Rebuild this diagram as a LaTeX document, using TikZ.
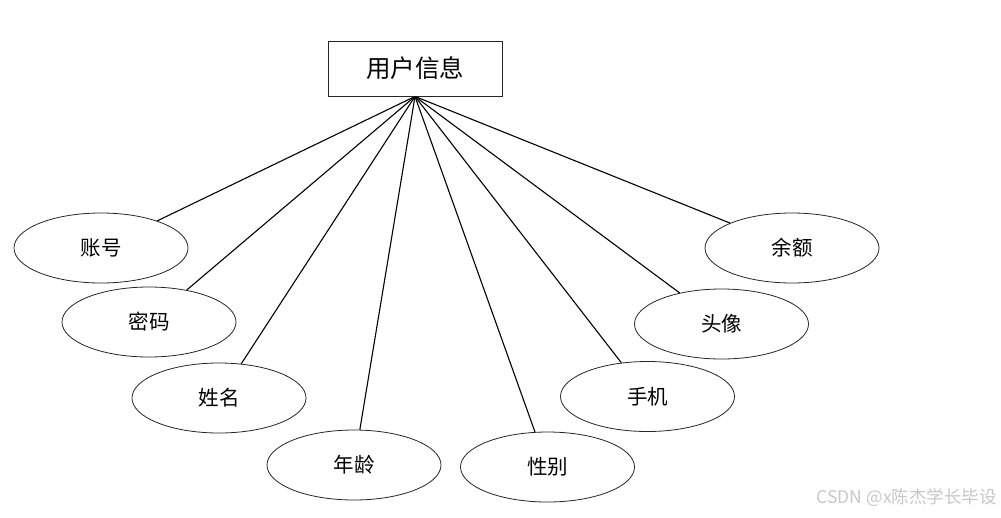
\documentclass[tikz,border=0pt]{standalone}
\usepackage{fontspec}
\setmainfont{Noto Sans CJK SC}
\newfontfamily\cjk{Noto Sans CJK SC}
\usetikzlibrary{shapes.geometric}
\begin{document}
\begin{tikzpicture}[x=1pt,y=-1pt,
  entbox/.style={draw=black!85,line width=0.9pt,minimum width=174pt,minimum height=55pt,inner sep=0pt,font=\cjk\fontsize{24.5}{28}\selectfont},
  attr/.style={draw=black!85,ellipse,line width=0.8pt,minimum width=174pt,minimum height=70pt,inner sep=0pt,font=\cjk\fontsize{20.5}{24}\selectfont},
  link/.style={line width=1.1pt,black}]
\useasboundingbox (0,0) rectangle (1001,517);
\node[entbox] (user) at (415,68.5) {用户信息};
\node[attr] (acc) at (101,248) {账号};
\node[attr] (pwd) at (149,322) {密码};
\node[attr] (name) at (219,398) {姓名};
\node[attr] (age) at (354,465) {年龄};
\node[attr] (sex) at (547.5,467) {性别};
\node[attr] (phone) at (647.5,396.5) {手机};
\node[attr] (avatar) at (721.5,324) {头像};
\node[attr] (bal) at (792,248) {余额};
\coordinate (hub) at (user.south);
\foreach \t in {acc,pwd,name,age,sex,phone,avatar,bal}
  \draw[link] (hub) -- (\t);
\node[anchor=east,text=black!22,font=\cjk\fontsize{17.5}{20}\selectfont,inner sep=0pt] (wm) at (997,498) {CSDN @x陈杰学长毕设};
\end{tikzpicture}
\end{document}
